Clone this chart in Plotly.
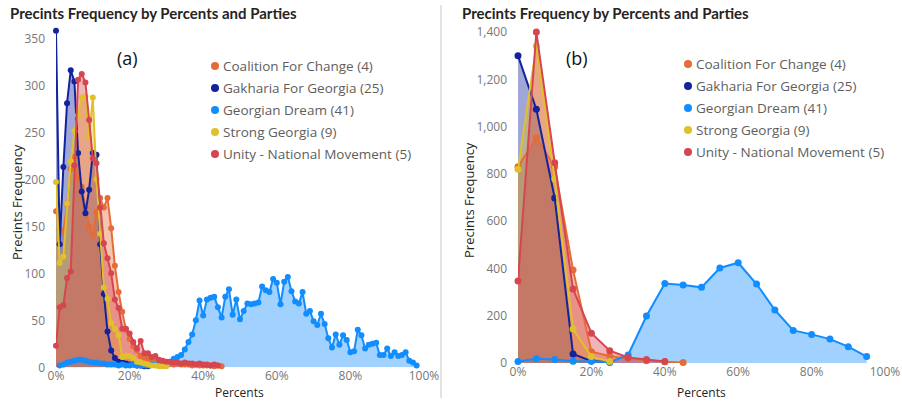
import plotly.graph_objects as go

# ---------------- data ----------------
series_names = ["Coalition For Change (4)", "Gakharia For Georgia (25)", "Georgian Dream (41)",
                "Strong Georgia (9)", "Unity - National Movement (5)"]
series_colors = ["#E66C37", "#12239E", "#118DFF", "#E0C12A", "#D64550"]

# (a) 1% bins
coal_a_x = list(range(0, 46))
coal_a = [166, 147, 145, 173, 211, 224, 201, 192, 170, 150, 141, 165, 180, 170, 180, 148, 108, 80, 59, 40,
          30, 22, 18, 12, 10, 9, 7, 6, 5, 5, 4, 4, 3, 4, 3, 3, 3, 2, 3, 2, 2, 2, 2, 1, 2, 1]
gakh_a_x = list(range(0, 26))
gakh_a = [358, 131, 213, 281, 316, 304, 228, 187, 164, 189, 228, 226, 131, 78, 38, 18, 10, 6, 5, 4,
          3, 3, 2, 2, 1, 1]
gd_a_x = list(range(1, 99))
gd_a = [2, 3, 5, 6, 7, 8, 8, 7, 6, 5, 5, 4, 4, 3, 3, 3, 2, 3, 2, 2,
        3, 2, 2, 2, 2, 3, 3, 2, 3, 3, 6, 9, 11, 13, 19, 27, 35, 50, 71, 55,
        72, 74, 75, 64, 53, 75, 83, 56, 72, 51, 60, 68, 67, 68, 69, 86, 82, 80, 94, 90,
        67, 91, 96, 81, 70, 68, 80, 57, 60, 49, 45, 57, 46, 31, 21, 35, 24, 34, 29, 16,
        17, 40, 34, 20, 24, 25, 26, 13, 13, 20, 12, 16, 12, 13, 16, 7, 5, 2]
strong_a_x = list(range(0, 31))
strong_a = [197, 111, 118, 174, 219, 251, 268, 287, 288, 245, 287, 200, 142, 85, 73, 47, 41, 34, 11, 12,
            12, 10, 6, 5, 4, 3, 2, 2, 1, 1, 1]
unity_a_x = list(range(0, 45))
unity_a = [23, 64, 66, 95, 102, 215, 306, 312, 303, 263, 222, 217, 170, 132, 116, 100, 72, 63, 41, 41,
           36, 27, 20, 28, 15, 15, 11, 12, 8, 7, 6, 6, 5, 5, 4, 5, 4, 4, 3, 4, 3, 3, 2, 3, 2]

# (b) 5% bins
coal_b_x = [0, 5, 10, 15, 20, 25, 30, 35, 40, 45]
coal_b = [830, 953, 830, 393, 48, 30, 18, 10, 5, 2]
gakh_b_x = [0, 5, 10, 15, 20, 25]
gakh_b = [1300, 1073, 698, 38, 8, 3]
gd_b_x = [0, 5, 10, 15, 20, 25, 30, 35, 40, 45, 50, 55, 60, 65, 70, 75, 80, 85, 90, 95]
gd_b = [6, 18, 15, 7, 7, 3, 34, 199, 336, 330, 320, 402, 424, 334, 224, 138, 121, 101, 69, 27]
strong_b_x = [0, 5, 10, 15, 20, 25]
strong_b = [820, 1341, 778, 144, 27, 6]
unity_b_x = [0, 5, 10, 15, 20, 25, 30, 35, 40]
unity_b = [347, 1400, 847, 313, 126, 52, 23, 15, 6]

x_ticks = [0, 20, 40, 60, 80, 100]
x_ticktext = ["0%", "20%", "40%", "60%", "80%", "100%"]
y_ticks_a = [0, 50, 100, 150, 200, 250, 300, 350]
y_ticks_b = [0, 200, 400, 600, 800, 1000, 1200, 1400]

title_text = "Precints Frequency by Percents and Parties"
y_title = "Precints Frequency"
x_title = "Percents"

# ---------------- figure ----------------
W, H = 902, 401
FONT = "Segoe UI, Open Sans, sans-serif"


def px_x(p):
    return p / W


def px_y(p):
    return 1 - p / H


def rgba(hexc, a):
    h = hexc.lstrip("#")
    return "rgba(%d,%d,%d,%.2f)" % (int(h[0:2], 16), int(h[2:4], 16), int(h[4:6], 16), a)


fig = go.Figure()

data_a = [(coal_a_x, coal_a), (gakh_a_x, gakh_a), (gd_a_x, gd_a), (strong_a_x, strong_a), (unity_a_x, unity_a)]
data_b = [(coal_b_x, coal_b), (gakh_b_x, gakh_b), (gd_b_x, gd_b), (strong_b_x, strong_b), (unity_b_x, unity_b)]

for data, xa, ya, msize in ((data_a, "x", "y", 6), (data_b, "x2", "y2", 7)):
    # areas first
    for (xs, ys), name, col in zip(data, series_names, series_colors):
        fig.add_trace(go.Scatter(x=xs, y=ys, name=name, mode="none", fill="tozeroy",
                                 fillcolor=rgba(col, 0.4), xaxis=xa, yaxis=ya, showlegend=False,
                                 hoverinfo="skip"))
    # then lines and markers on top
    for (xs, ys), name, col in zip(data, series_names, series_colors):
        fig.add_trace(go.Scatter(x=xs, y=ys, name=name, mode="lines+markers",
                                 line=dict(color=col, width=2), marker=dict(color=col, size=msize),
                                 cliponaxis=False, xaxis=xa, yaxis=ya, showlegend=False))

tick_font = dict(family=FONT, size=12, color="#777777")
common_x = dict(range=[0, 100], tickvals=x_ticks, ticktext=x_ticktext, showgrid=False, zeroline=False,
                showline=False, ticks="", tickfont=tick_font, fixedrange=True, automargin=False)
common_y = dict(showgrid=False, zeroline=False, showline=False, ticks="", tickfont=tick_font,
                ticklabelstandoff=10, fixedrange=True, automargin=False)

fig.update_layout(
    width=W, height=H, margin=dict(l=0, r=0, t=0, b=0, pad=0),
    paper_bgcolor="white", plot_bgcolor="white", showlegend=False,
    font=dict(family=FONT),
    xaxis=dict(domain=[px_x(56), px_x(424)], anchor="y", **common_x),
    yaxis=dict(domain=[px_y(367.3), px_y(28.9)], range=[0, 360], tickvals=y_ticks_a, anchor="x", **common_y),
    xaxis2=dict(domain=[px_x(518), px_x(885)], anchor="y2", **common_x),
    yaxis2=dict(domain=[px_y(363), px_y(27.3)], range=[0, 1420], tickvals=y_ticks_b, tickformat=",d",
                anchor="x2", **common_y),
)

ann = []
shapes = []
# titles
for x0 in (8, 460):
    ann.append(dict(x=px_x(x0), y=px_y(13), xref="paper", yref="paper", xanchor="left", yanchor="middle",
                    text=title_text, showarrow=False,
                    font=dict(family="Lato, sans-serif", size=15, color="#252423", weight="bold")))
# axis titles
for xc, yc in ((17, 202), (469, 200)):
    ann.append(dict(x=px_x(xc), y=px_y(yc), xref="paper", yref="paper", xanchor="center", yanchor="middle",
                    text=y_title, textangle=-90, showarrow=False,
                    font=dict(family=FONT, size=13, color="#252423")))
for xc in (240, 701):
    ann.append(dict(x=px_x(xc), y=px_y(392), xref="paper", yref="paper", xanchor="center", yanchor="middle",
                    text=x_title, showarrow=False,
                    font=dict(family=FONT, size=12, color="#252423")))
# (a) / (b)
for xc, t in ((127, "(a)"), (577, "(b)")):
    ann.append(dict(x=px_x(xc), y=px_y(58), xref="paper", yref="paper", xanchor="center", yanchor="middle",
                    text=t, showarrow=False, font=dict(family=FONT, size=18, color="#111111")))
# legends
legend_rows_a = [66, 88, 110, 132, 154]
legend_rows_b = [64, 86, 108, 130, 152]
for dotx, rows in ((215, legend_rows_a), (688, legend_rows_b)):
    for name, col, ry in zip(series_names, series_colors, rows):
        shapes.append(dict(type="circle", xref="paper", yref="paper", xsizemode="pixel", ysizemode="pixel",
                           xanchor=px_x(dotx), yanchor=px_y(ry), x0=-4, x1=4, y0=-4, y1=4,
                           fillcolor=col, line=dict(width=0)))
        ann.append(dict(x=px_x(dotx + 6), y=px_y(ry), xref="paper", yref="paper", xanchor="left",
                        yanchor="middle", text=name, showarrow=False,
                        font=dict(family=FONT, size=13.5, color="#605E5C")))
# separator
shapes.append(dict(type="line", xref="paper", yref="paper", x0=px_x(441), x1=px_x(441),
                   y0=px_y(398), y1=px_y(5), line=dict(color="#C8C6C4", width=1)))

fig.update_layout(annotations=ann, shapes=shapes)

fig.write_html("out.html", config={"displayModeBar": False},
               post_script="document.body.style.margin='0';document.body.style.overflow='hidden';")
